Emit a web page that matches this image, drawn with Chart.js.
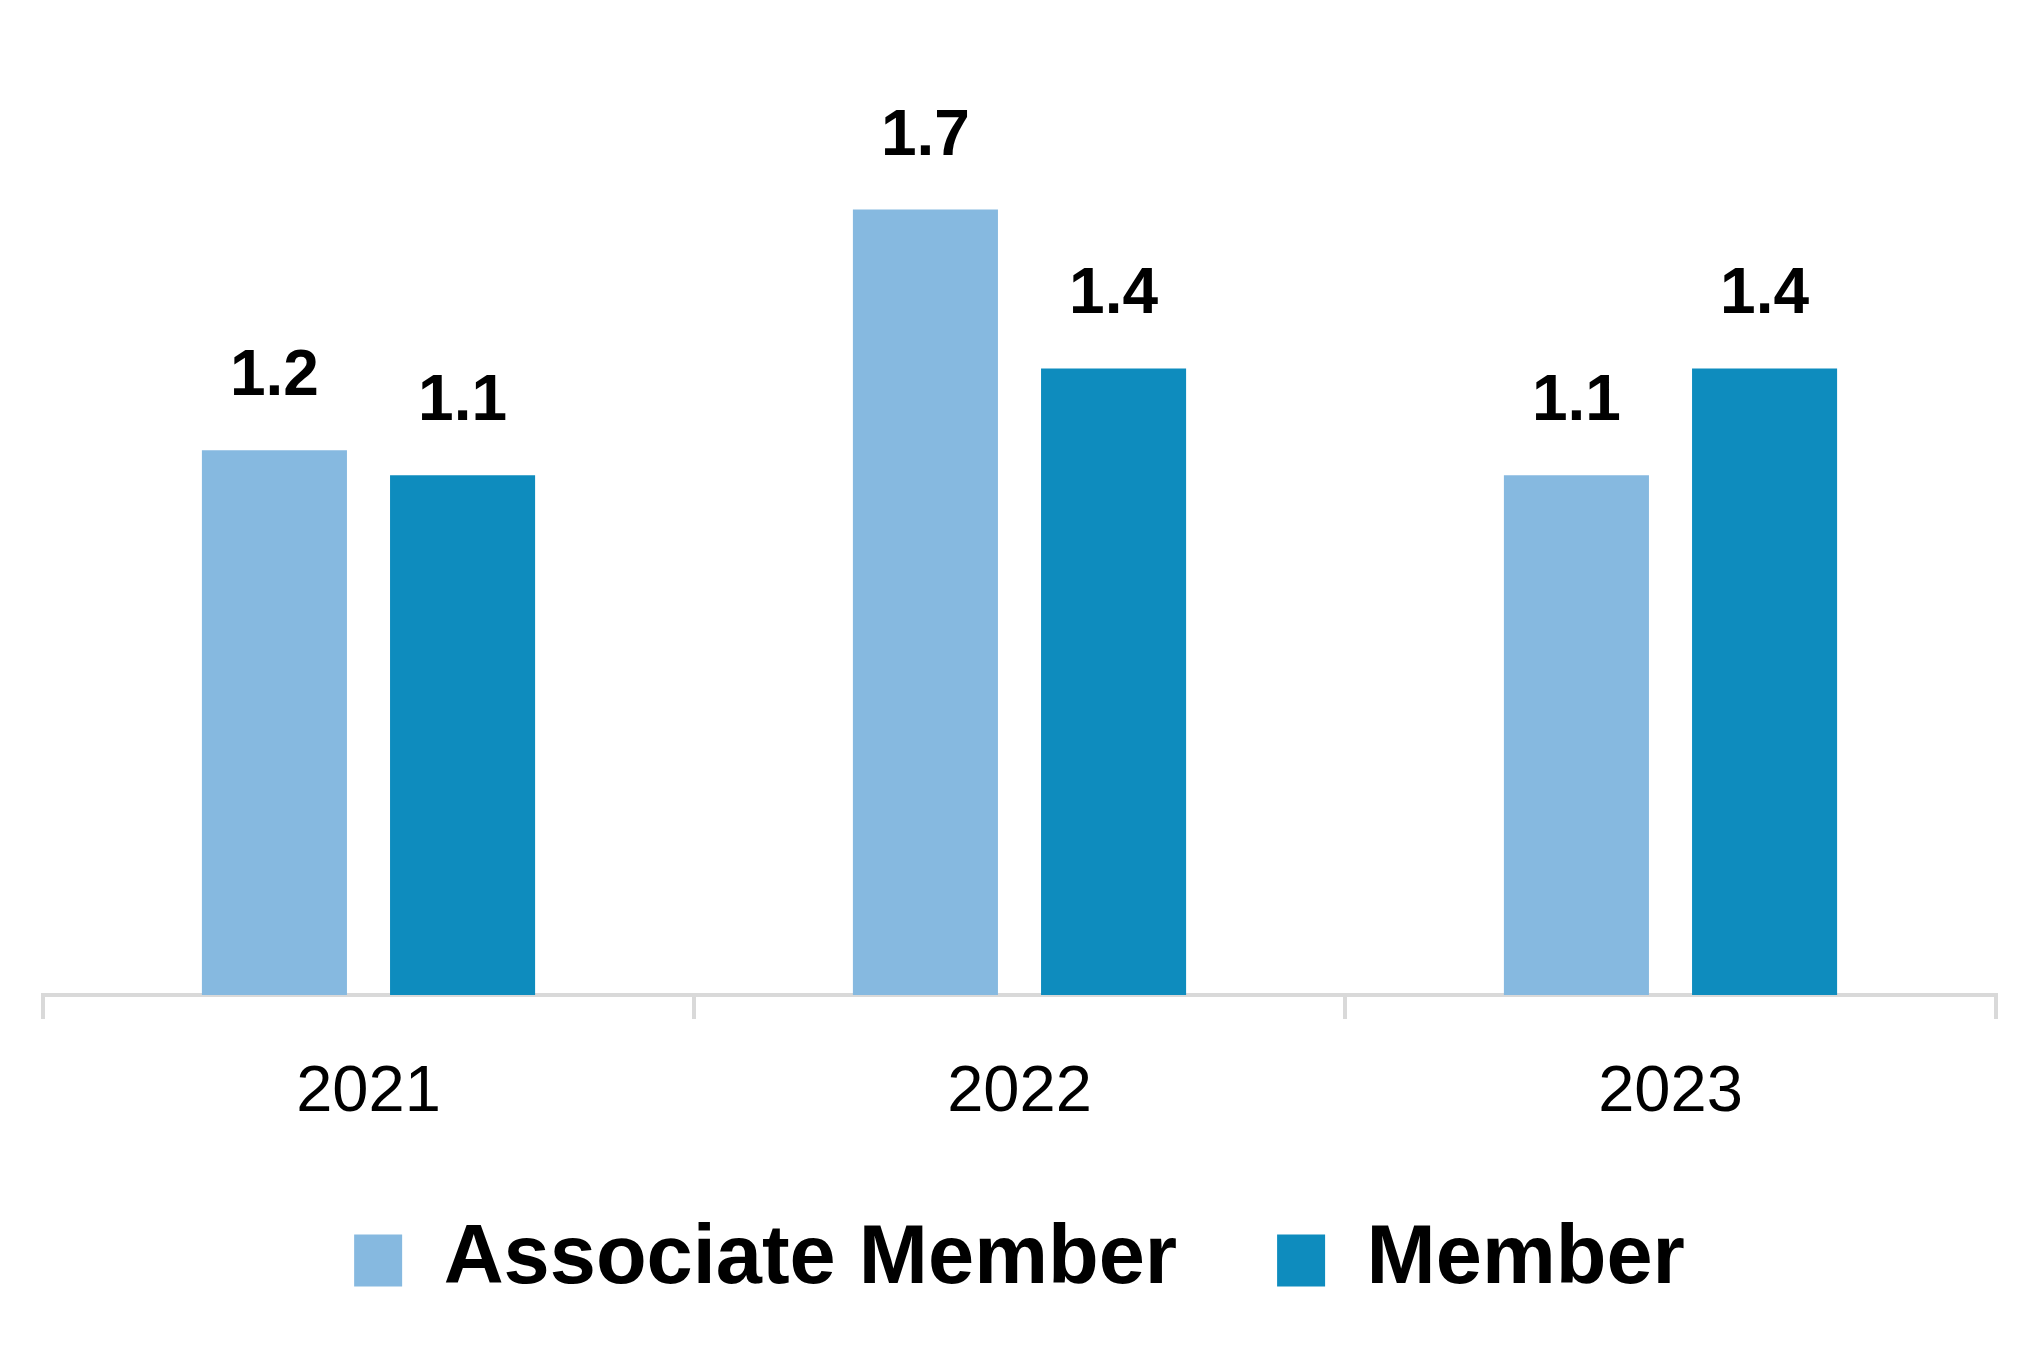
<!DOCTYPE html>
<html>
<head>
<meta charset="utf-8">
<script src="https://cdn.jsdelivr.net/npm/chart.js@4.4.0/dist/chart.umd.min.js"></script>
<style>
  html, body { margin: 0; padding: 0; background: #fff; }
  #wrap { width: 2032px; height: 1352px; }
</style>
</head>
<body>
<div id="wrap"><canvas id="chart" width="2032" height="1352"></canvas></div>
<script>
const years = ['2021', '2022', '2023'];
const associateMember = [1.2, 1.73, 1.145];
const member = [1.145, 1.38, 1.38];

// value labels above each bar
const valueLabels = {
  id: 'valueLabels',
  afterDatasetsDraw(chart) {
    const ctx = chart.ctx;
    ctx.save();
    ctx.font = 'bold 64px "Liberation Sans", Arial, sans-serif';
    ctx.fillStyle = '#000';
    ctx.textAlign = 'center';
    ctx.textBaseline = 'alphabetic';
    chart.data.datasets.forEach((ds, i) => {
      chart.getDatasetMeta(i).data.forEach((bar, j) => {
        ctx.fillText(ds.data[j].toFixed(1), bar.x, bar.y - 55);
      });
    });
    ctx.restore();
  }
};

new Chart(document.getElementById('chart'), {
  type: 'bar',
  data: {
    labels: years,
    datasets: [
      { label: 'Associate Member', data: associateMember, backgroundColor: '#86B9E0' },
      { label: 'Member', data: member, backgroundColor: '#0E8CBE' },
    ],
  },
  options: {
    responsive: false,
    animation: false,
    devicePixelRatio: 1,
    categoryPercentage: 0.578,
    barPercentage: 0.771,
    layout: { padding: { top: 87, left: 43, right: 36, bottom: 40 } },
    scales: {
      y: { display: false, min: 0, max: 2 },
      x: {
        border: { display: true, color: '#d9d9d9', width: 4 },
        grid: { offset: true, drawOnChartArea: false, drawTicks: true, tickLength: 24, color: '#d9d9d9', lineWidth: 4 },
        ticks: { color: '#000', padding: 35, font: { family: '"Liberation Sans", Arial, sans-serif', size: 65 } },
        afterFit(scale) { scale.height = 124; },
      },
    },
    plugins: {
      tooltip: { enabled: false },
      legend: {
        position: 'bottom',
        labels: {
          color: '#000',
          boxWidth: 48,
          boxHeight: 52,
          padding: 100,
          font: { family: '"Liberation Sans", Arial, sans-serif', size: 83, weight: 'bold' },
        },
      },
    },
  },
  plugins: [valueLabels],
});
</script>
</body>
</html>
